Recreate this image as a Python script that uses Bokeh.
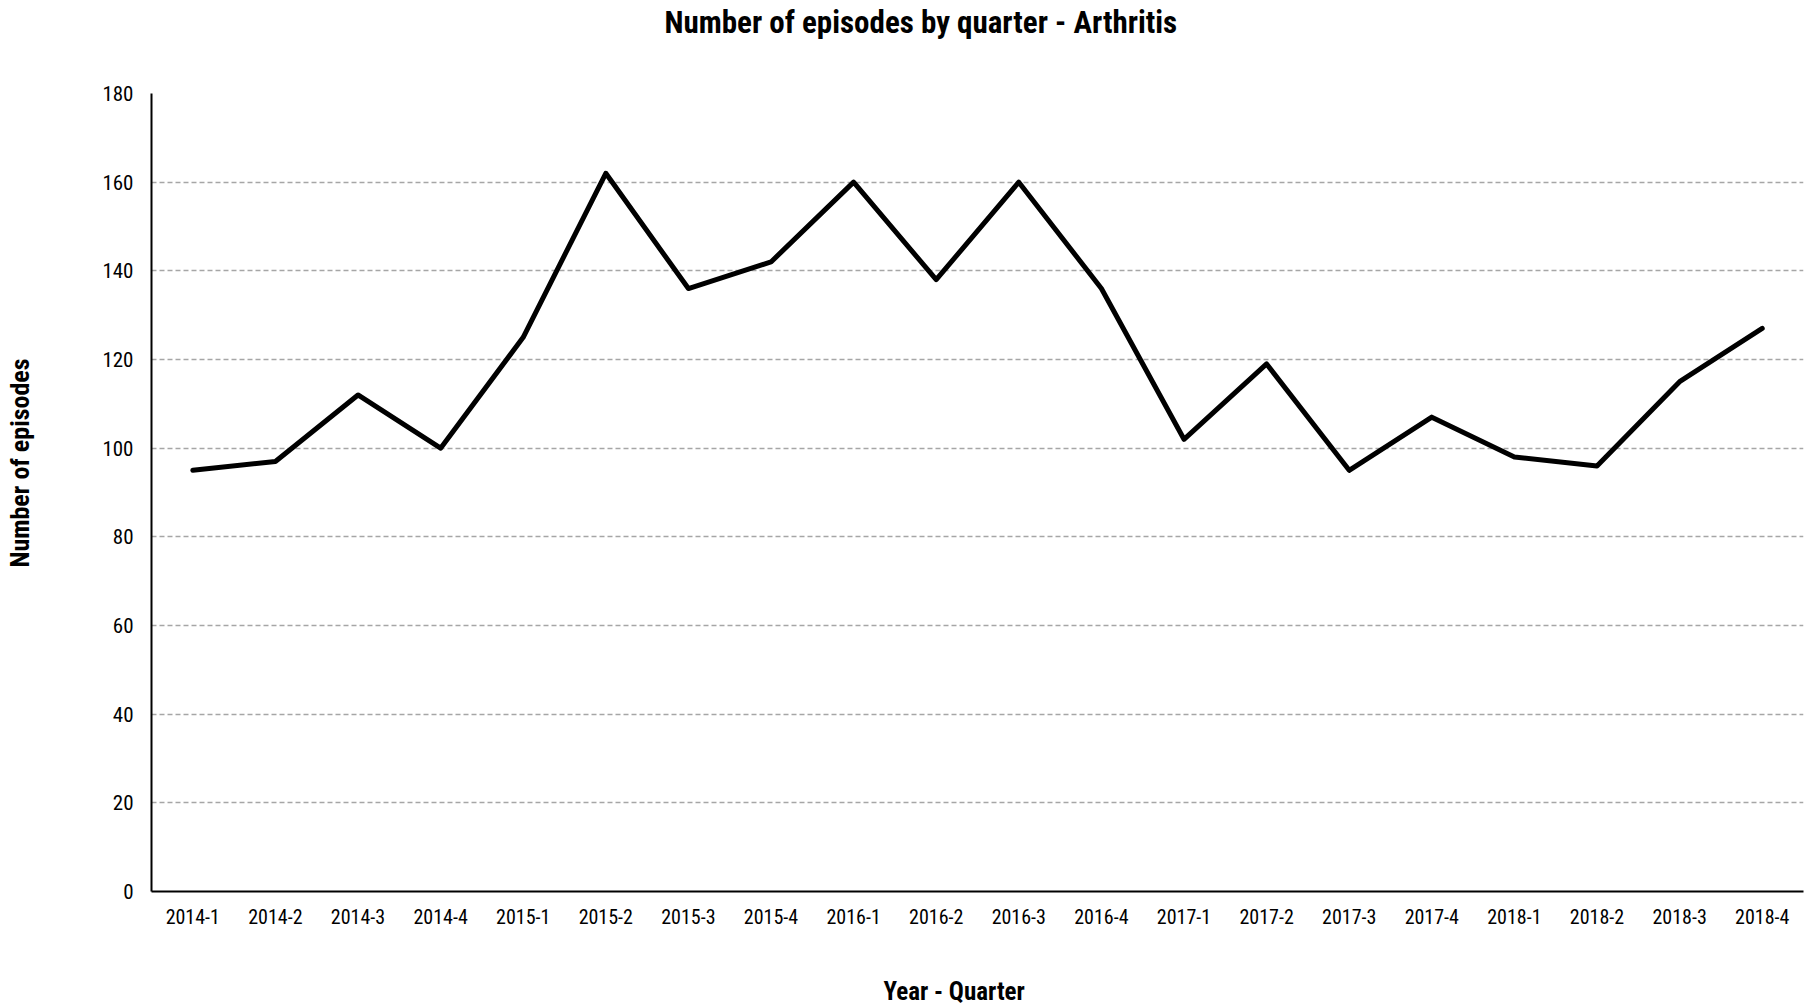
from bokeh.plotting import figure
from bokeh.embed import file_html
from bokeh.resources import INLINE
from bokeh.models import Range1d, FactorRange, SingleIntervalTicker, Title

quarters = ["2014-1", "2014-2", "2014-3", "2014-4",
            "2015-1", "2015-2", "2015-3", "2015-4",
            "2016-1", "2016-2", "2016-3", "2016-4",
            "2017-1", "2017-2", "2017-3", "2017-4",
            "2018-1", "2018-2", "2018-3", "2018-4"]
episodes = [95, 97, 112, 100, 125, 162, 136, 142, 160, 138,
            160, 136, 102, 119, 95, 107, 98, 96, 115, 127]

title_text = "Number of episodes by quarter - Arthritis"
x_title = "Year - Quarter"
y_title = "Number of episodes"

FONT = "'Liberation Sans Narrow', 'Arial Narrow', 'Roboto Condensed', 'Liberation Sans', sans-serif"

p = figure(x_range=FactorRange(*quarters, range_padding=0),
           y_range=Range1d(0, 180),
           width=1807, height=1006,
           output_backend="svg", toolbar_location=None,
           min_border_left=151, min_border_right=4,
           min_border_top=93, min_border_bottom=115)

p.line(x=quarters, y=episodes, line_color="black", line_width=5,
       line_join="round", line_cap="round")

p.outline_line_color = None
p.xgrid.grid_line_color = None
p.ygrid.grid_line_color = "#a6a6a6"
p.ygrid.grid_line_dash = "5 3"
p.ygrid.grid_line_width = 1.5
p.yaxis.ticker = SingleIntervalTicker(interval=20)

for ax in (p.xaxis[0], p.yaxis[0]):
    ax.axis_line_color = "black"
    ax.axis_line_width = 2
    ax.major_tick_line_color = None
    ax.minor_tick_line_color = None
    ax.major_label_text_font = FONT
    ax.major_label_text_font_size = "20px"
    ax.major_label_text_color = "black"

p.yaxis.major_label_text_font_size = "21px"
p.xaxis.major_label_standoff = 11
p.yaxis.major_label_standoff = 12


def spacer(size):
    return Title(text=" ", text_font_size="1px", standoff=size)


# above: spacer next to the frame, then the chart title at the top edge
p.add_layout(spacer(47), "above")
p.add_layout(Title(text=title_text, text_font=FONT, text_font_size="31px",
                   text_font_style="bold", text_color="black",
                   align="left", offset=513, standoff=2,
                   vertical_align="top"), "above")

# below: x-axis, spacer, x title
p.add_layout(spacer(55), "below")
p.add_layout(Title(text=x_title, text_font=FONT, text_font_size="25px",
                   text_font_style="bold", text_color="black",
                   align="left", offset=732, standoff=-16,
                   vertical_align="top"), "below")

# left: y-axis, spacer, y title
p.add_layout(spacer(60), "left")
p.add_layout(Title(text=y_title, text_font=FONT, text_font_size="26px",
                   text_font_style="bold", text_color="black",
                   align="left", offset=324, standoff=0,
                   vertical_align="top"), "left")

open("out.html", "w").write(file_html(p, INLINE))
